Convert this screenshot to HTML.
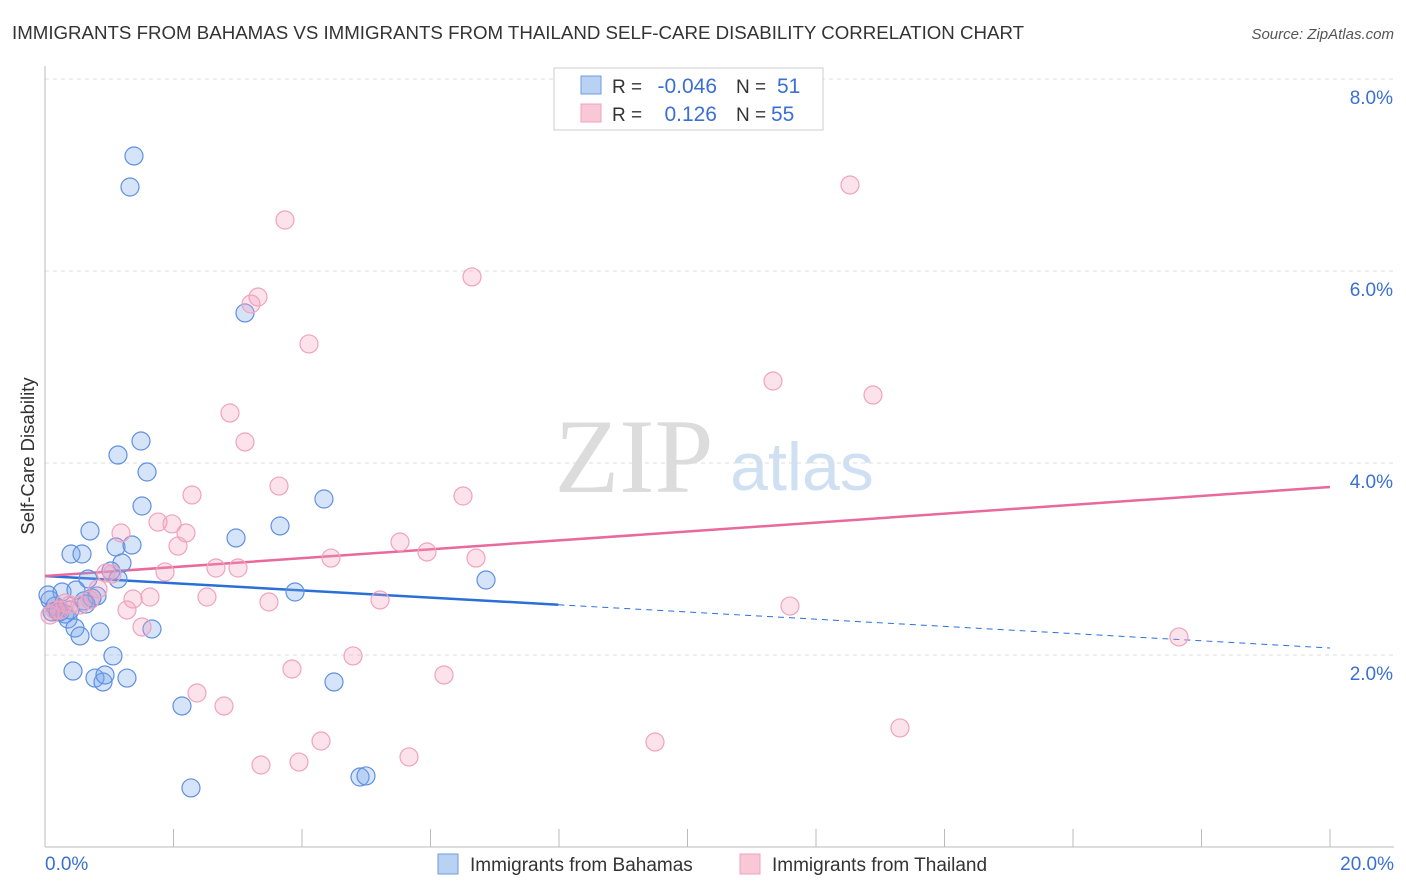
<!DOCTYPE html>
<html><head><meta charset="utf-8"><style>
body{margin:0;background:#fff;font-family:"Liberation Sans",sans-serif}
svg{display:block}
</style></head><body>
<svg id="chart" width="1406" height="892">
<text x="12" y="39" font-size="18.7" fill="#333">IMMIGRANTS FROM BAHAMAS VS IMMIGRANTS FROM THAILAND SELF-CARE DISABILITY CORRELATION CHART</text>
<text x="1394" y="39" font-size="15" fill="#555" font-style="italic" text-anchor="end">Source: ZipAtlas.com</text>
<text x="634" y="492" font-size="106" fill="#dcdcdc" font-family="Liberation Serif,serif" text-anchor="middle">ZIP</text>
<text x="802" y="490" font-size="68" fill="#cfe0f3" text-anchor="middle">atlas</text>
<g id="grid"></g><g id="axes"></g><g id="trend"></g><g id="pts"></g>
<text x="34" y="456" font-size="18.5" fill="#333" text-anchor="middle" transform="rotate(-90 34 456)">Self-Care Disability</text>
<g>
<rect x="554" y="68" width="269" height="62" fill="#fff" stroke="#ccc"/>
<rect x="581" y="76" width="20" height="18" fill="#b9d1f3" stroke="#6f9be0"/>
<rect x="581" y="104" width="20" height="18" fill="#f9c8d6" stroke="#f0a0bc"/>
<text x="612" y="93" font-size="19" fill="#333">R =</text>
<text x="717" y="93" font-size="21" fill="#3b6fd1" text-anchor="end">-0.046</text>
<text x="736" y="93" font-size="19" fill="#333">N =</text>
<text x="777" y="93" font-size="21" fill="#3b6fd1">51</text>
<text x="612" y="121" font-size="19" fill="#333">R =</text>
<text x="717" y="121" font-size="21" fill="#3b6fd1" text-anchor="end">0.126</text>
<text x="736" y="121" font-size="19" fill="#333">N =</text>
<text x="771" y="121" font-size="21" fill="#3b6fd1">55</text>
</g>
<g><rect x="438" y="854" width="20" height="20" fill="#b9d1f3" stroke="#6f9be0"/><text x="470" y="871" font-size="19" fill="#333">Immigrants from Bahamas</text></g>
<g><rect x="740" y="854" width="20" height="20" fill="#f9c8d6" stroke="#f0a0bc"/><text x="772" y="871" font-size="19" fill="#333">Immigrants from Thailand</text></g>
</svg>
<script>
const blueX=[1.385,1.323,3.113,1.494,1.136,1.588,1.510,4.342,0.700,2.973,3.658,0.405,0.576,1.105,1.354,1.198,6.864,3.891,1.027,1.136,0.669,0.265,0.482,0.809,0.732,0.607,0.078,0.156,0.233,0.358,0.467,0.545,0.856,1.665,1.058,0.436,0.778,0.903,0.934,1.276,2.132,4.498,2.272,4.903,4.996,0.047,0.109,0.202,0.311,0.389,0.638];
const blueY=[7.198,6.875,5.563,4.229,4.083,3.906,3.552,3.625,3.292,3.219,3.344,3.052,3.052,3.125,3.146,2.958,2.781,2.656,2.875,2.792,2.792,2.656,2.677,2.615,2.594,2.563,2.573,2.510,2.448,2.375,2.281,2.198,2.240,2.271,1.990,1.833,1.760,1.719,1.792,1.760,1.469,1.719,0.615,0.729,0.740,2.625,2.448,2.448,2.427,2.469,2.531];
const pinkX=[3.735,12.529,6.646,3.315,3.206,4.109,11.331,12.887,2.879,3.113,3.642,2.288,6.506,1.759,1.977,1.183,2.194,2.070,5.525,5.945,4.451,6.708,2.661,3.004,1.868,0.949,1.043,0.825,1.634,2.521,1.370,3.486,5.214,1.276,0.700,0.545,0.389,0.233,0.078,11.595,1.510,17.649,4.794,3.844,6.210,2.366,2.786,13.307,4.296,9.494,5.665,3.953,3.362,0.156,0.311];
const pinkY=[6.531,6.896,5.938,5.729,5.656,5.240,4.854,4.708,4.521,4.219,3.760,3.667,3.656,3.385,3.365,3.271,3.271,3.135,3.177,3.073,3.010,3.010,2.906,2.906,2.865,2.854,2.844,2.688,2.604,2.604,2.583,2.552,2.573,2.469,2.573,2.521,2.521,2.469,2.417,2.510,2.292,2.188,1.990,1.854,1.792,1.604,1.469,1.240,1.104,1.094,0.938,0.885,0.854,2.469,2.542];
const yTicks=[2,4,6,8];
const yTickLabels=["2.0%","4.0%","6.0%","8.0%"];
const xTickLabels=["0.0%","20.0%"];
const blueTrend=[2.823,2.073];
const pinkTrend=[2.823,3.75];
const blueSolidEnd=7.99;
const NS="http://www.w3.org/2000/svg";
const sx=v=>45+v/20*1285, sy=v=>847-v*96;
function mk(p,t,a){const e=document.createElementNS(NS,t);for(const k in a)e.setAttribute(k,a[k]);p.appendChild(e);return e;}
const grid=document.getElementById('grid'),axes=document.getElementById('axes'),trend=document.getElementById('trend'),pts=document.getElementById('pts');
yTicks.forEach((v,i)=>{
 const l=mk(grid,'line',{x1:45,x2:1394,y1:sy(v),y2:sy(v),stroke:'#ddd','stroke-dasharray':'4 4'});
 
 
 const t=mk(grid,'text',{x:1393,y:sy(v)+25,'font-size':19,fill:'#3b6fd1','text-anchor':'end'});t.textContent=yTickLabels[i];
 
 
});
const ya=mk(axes,'line',{x1:45,x2:45,y1:66,y2:847,stroke:'#bbb'});


const xa=mk(axes,'line',{x1:45,x2:1394,y1:847,y2:847,stroke:'#bbb'});


for(let i=0;i<=10;i++){const tk=mk(axes,'line',{x1:sx(i*2),x2:sx(i*2),y1:829,y2:847,stroke:'#bbb'});
 
 }
[[0,'start',45],[20,'end',1394]].forEach((d,i)=>{const t=mk(axes,'text',{x:d[2],y:870,'font-size':19,fill:'#3b6fd1','text-anchor':d[1]});t.textContent=xTickLabels[i];
 
 });
function bt(x){return blueTrend[0]+(blueTrend[1]-blueTrend[0])*x/20;}
const b1=mk(trend,'line',{x1:sx(0),y1:sy(bt(0)),x2:sx(blueSolidEnd),y2:sy(bt(blueSolidEnd)),stroke:'#2a6fd6','stroke-width':2.5});


const b2=mk(trend,'line',{x1:sx(blueSolidEnd),y1:sy(bt(blueSolidEnd)),x2:sx(20),y2:sy(bt(20)),stroke:'#2a6fd6','stroke-width':1,'stroke-dasharray':'6 5'});


const p1=mk(trend,'line',{x1:sx(0),y1:sy(pinkTrend[0]),x2:sx(20),y2:sy(pinkTrend[1]),stroke:'#e8699a','stroke-width':2.5});


blueX.forEach((x,i)=>{const c=mk(pts,'circle',{cx:sx(x),cy:sy(blueY[i]),r:9,fill:'rgba(120,165,235,0.3)',stroke:'#5f90e0','stroke-width':1.2});
 
 });
pinkX.forEach((x,i)=>{const c=mk(pts,'circle',{cx:sx(x),cy:sy(pinkY[i]),r:9,fill:'rgba(245,160,190,0.3)',stroke:'#f0a3be','stroke-width':1.2});
 
 });
</script>
</body></html>
